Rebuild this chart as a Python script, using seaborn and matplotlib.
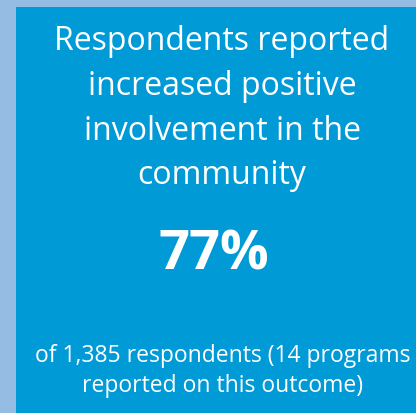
import matplotlib
matplotlib.use("Agg")
import matplotlib.pyplot as plt
import seaborn as sns

# tile content
headline_lines = ["Respondents reported", "increased positive", "involvement in the", "community"]
percent_value = 77
respondents = 1385
programs = 14

sns.set_theme(style="white")
plt.rcParams['font.family'] = ['Open Sans', 'DejaVu Sans']

W, H = 416, 413
fig = plt.figure(figsize=(W / 100, H / 100), dpi=100)
fig.patch.set_facecolor('#95BDE3')
ax = fig.add_axes([0, 0, 1, 1])
ax.set_xlim(0, W)
ax.set_ylim(H, 0)
ax.axis('off')

# main blue box
ax.add_patch(plt.Rectangle((16, 7), W - 16, H - 7, color='#009AD7', lw=0))

cx = 222
for i, line in enumerate(headline_lines):
    ax.text(cx, 42 + i * 44.5, line, color='white', fontsize=23,
            ha='center', va='center')

ax.text(214, 255, f"{percent_value}%", color='white', fontsize=39,
        fontweight='bold', ha='center', va='center')

ax.text(223, 356, f"of {respondents:,} respondents ({programs} programs",
        color='white', fontsize=16.5, ha='center', va='center')
ax.text(223, 386, "reported on this outcome)", color='white', fontsize=16.5,
        ha='center', va='center')

plt.savefig('out.png', dpi=100, facecolor=fig.get_facecolor())
